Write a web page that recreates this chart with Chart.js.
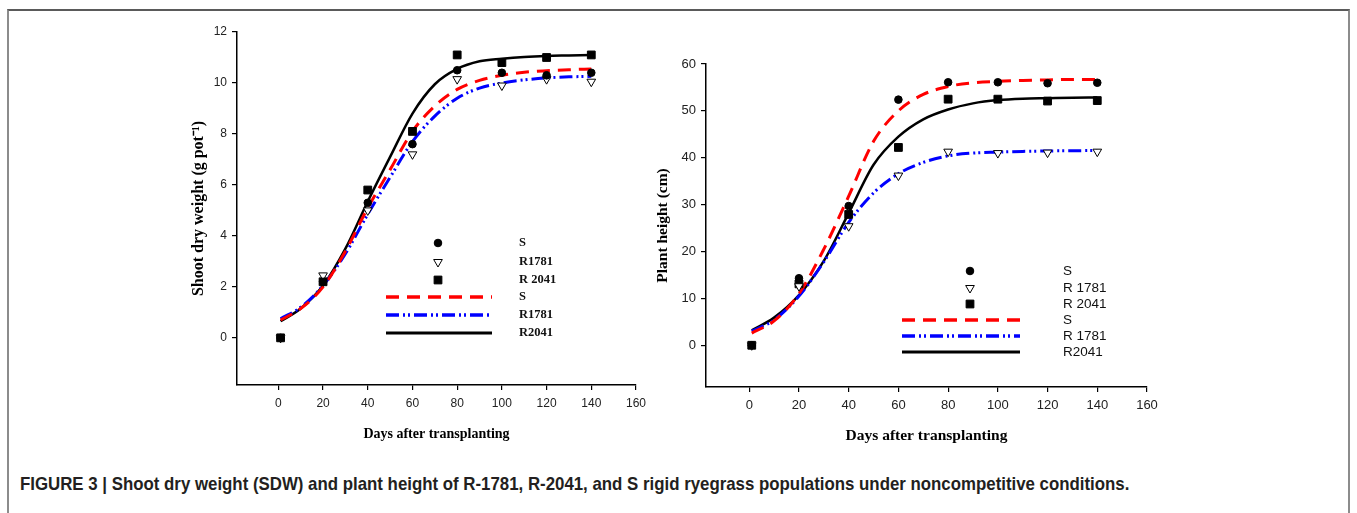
<!DOCTYPE html>
<html>
<head>
<meta charset="utf-8">
<script src="https://cdn.jsdelivr.net/npm/chart.js@4.4.1/dist/chart.umd.min.js"></script>
<style>
  body { margin: 0; background: #fff; width: 1357px; height: 513px; overflow: hidden; position: relative; }
  #frame { position: absolute; left: 7px; top: 9px; width: 1339px; height: 600px;
           border: 2px solid #8c8c8c; border-top-color: #5a5a5a; }
  .box { position: absolute; top: 0; height: 460px; }
  #left { left: 185px; width: 480px; }
  #right { left: 650px; width: 520px; }
  #caption { position: absolute; left: 20px; top: 474px; white-space: nowrap;
             font: bold 18.5px "Liberation Sans Narrow", "Arial Narrow", "Liberation Sans", sans-serif;
             color: #231f20; line-height: 20px; transform: scaleX(0.91); transform-origin: left center; }
</style>
</head>
<body>
<div id="frame"></div>
<div class="box" id="left"><canvas id="sdwChart"></canvas></div>
<div class="box" id="right"><canvas id="heightChart"></canvas></div>
<div id="caption">FIGURE 3 | Shoot dry weight (SDW) and plant height of R-1781, R-2041, and S rigid ryegrass populations under noncompetitive conditions.</div>

<script>
// sampling days
const days = [1, 20, 40, 60, 80, 100, 120, 140];
const curveDays = [1, 10, 20, 30, 40, 50, 60, 70, 80, 90, 100, 110, 120, 130, 140];
const xTicks = [0, 20, 40, 60, 80, 100, 120, 140, 160];

// shoot dry weight (g pot-1)
const sdwTicks = [0, 2, 4, 6, 8, 10, 12];
const sdwS = [0, 2.2, 5.3, 7.6, 10.5, 10.4, 10.3, 10.4];
const sdwR1781 = [0, 2.45, 5.0, 7.2, 10.15, 9.9, 10.15, 10.05];
const sdwR2041 = [0, 2.2, 5.8, 8.1, 11.1, 10.8, 11.0, 11.1];
const sdwFitS = [0.7, 1.15, 2.0, 3.4, 5.1, 6.6, 8.1, 9.1, 9.75, 10.1, 10.3, 10.42, 10.48, 10.52, 10.55];
const sdwFitR1781 = [0.75, 1.2, 2.05, 3.3, 4.85, 6.3, 7.7, 8.7, 9.4, 9.8, 10.0, 10.12, 10.2, 10.24, 10.26];
const sdwFitR2041 = [0.65, 1.15, 2.05, 3.5, 5.35, 7.1, 8.8, 9.95, 10.55, 10.85, 10.95, 11.02, 11.06, 11.08, 11.1];
const sdwLabels = ['S', 'R1781', 'R 2041', 'S', 'R1781', 'R2041'];

// plant height (cm)
const heightTicks = [0, 10, 20, 30, 40, 50, 60];
const htS = [0, 14.3, 29.7, 52.4, 56.1, 56.1, 55.9, 56.0];
const htR1781 = [0, 12.6, 25.4, 36.2, 41.3, 41.0, 41.1, 41.3];
const htR2041 = [0, 13.1, 27.9, 42.2, 52.5, 52.5, 52.1, 52.2];
const htFitS = [2.6, 5.2, 11.0, 20.5, 31.8, 43.5, 50.0, 53.5, 55.2, 56.0, 56.3, 56.5, 56.6, 56.7, 56.7];
const htFitR1781 = [3.0, 5.4, 10.5, 17.8, 26.2, 32.5, 36.6, 39.0, 40.4, 41.0, 41.2, 41.35, 41.45, 41.5, 41.55];
const htFitR2041 = [3.2, 5.9, 10.7, 18.0, 28.2, 38.5, 44.5, 48.2, 50.3, 51.6, 52.3, 52.6, 52.7, 52.8, 52.85];
const heightLabels = ['S', 'R 1781', 'R 2041', 'S', 'R 1781', 'R2041'];

const pts = (xs, ys) => xs.map((x, i) => ({ x: x, y: ys[i] }));

// draws the legend inside the plot area
const inlineLegend = {
  id: 'inlineLegend',
  afterDraw(chart, args, opts) {
    const ctx = chart.ctx;
    ctx.save();
    opts.items.forEach(it => {
      const ds = chart.data.datasets[it.dataset];
      if (ds.showLine === false) {
        ctx.fillStyle = ds.pointBackgroundColor;
        ctx.strokeStyle = ds.pointBorderColor;
        ctx.lineWidth = 1;
        Chart.helpers.drawPoint(ctx, { pointStyle: ds.pointStyle, radius: ds.pointRadius,
          rotation: ds.pointRotation || 0, borderWidth: 1 }, opts.markerX, it.y);
      } else {
        ctx.strokeStyle = ds.borderColor;
        ctx.lineWidth = ds.borderWidth + 0.5;
        ctx.setLineDash(ds.borderDash || []);
        ctx.beginPath();
        ctx.moveTo(opts.lineX1, it.y);
        ctx.lineTo(opts.lineX2, it.y);
        ctx.stroke();
        ctx.setLineDash([]);
      }
      ctx.fillStyle = '#111';
      ctx.font = opts.font;
      ctx.textBaseline = 'middle';
      ctx.textAlign = 'left';
      ctx.fillText(ds.label, opts.textX, it.y);
    });
    ctx.restore();
  }
};

function makeDatasets(s, r1, r2, fs, fr1, fr2, labels) {
  const marker = (label, data, style, fill, rot, r) => ({
    type: 'scatter', label: label, data: pts(days, data), showLine: false,
    pointStyle: style, pointRadius: r, pointRotation: rot,
    pointBackgroundColor: fill, pointBorderColor: '#000', pointBorderWidth: 1, order: 0
  });
  const curve = (label, data, color, width, dash) => ({
    type: 'line', label: label, data: pts(curveDays, data), borderColor: color,
    borderWidth: width, borderDash: dash, pointRadius: 0, cubicInterpolationMode: 'monotone',
    fill: false, order: 1
  });
  return [
    marker(labels[0], s, 'circle', '#000', 0, 3.8),
    marker(labels[1], r1, 'triangle', '#fff', 180, 5),
    marker(labels[2], r2, 'rect', '#000', 0, 5.5),
    curve(labels[3], fs, '#ff0000', 3, [13, 8]),
    curve(labels[4], fr1, '#0000ff', 3, [13, 4, 2, 3, 2, 4]),
    curve(labels[5], fr2, '#000000', 2.5, [])
  ];
}

function makeChart(id, datasets, cfg) {
  const ctx = document.getElementById(id).getContext('2d');
  return new Chart(ctx, {
    data: { datasets: datasets },
    plugins: [inlineLegend],
    options: {
      responsive: true,
      maintainAspectRatio: false,
      animation: false,
      layout: { padding: { top: cfg.padTop, right: cfg.padRight, bottom: cfg.padBottom, left: 0 } },
      plugins: {
        legend: { display: false },
        tooltip: { enabled: false },
        inlineLegend: cfg.legend
      },
      scales: {
        x: {
          type: 'linear', min: cfg.xMin, max: 160,
          afterBuildTicks: sc => { sc.ticks = xTicks.map(v => ({ value: v })); },
          afterFit: sc => { sc.height = 62; },
          grid: { display: true, drawOnChartArea: false, drawTicks: true, tickLength: 5, color: '#000', lineWidth: 1.2 },
          border: { display: true, color: '#000', width: 1.5 },
          ticks: { color: '#222', padding: 6, font: { family: 'Liberation Sans', size: cfg.tickSize }, maxRotation: 0 },
          title: { display: true, text: 'Days after transplanting', color: '#000',
                   font: { family: 'Liberation Serif', weight: 'bold', size: cfg.xTitleSize }, padding: { top: 4, bottom: 4 } }
        },
        y: {
          type: 'linear', min: cfg.yMin, max: cfg.yMax,
          afterBuildTicks: sc => { sc.ticks = cfg.yTicks.map(v => ({ value: v })); },
          afterFit: sc => { sc.width = cfg.yWidth; },
          grid: { display: true, drawOnChartArea: false, drawTicks: true, tickLength: 5, color: '#000', lineWidth: 1.2 },
          border: { display: true, color: '#000', width: 1.5 },
          ticks: { color: '#222', padding: 5, font: { family: 'Liberation Sans', size: cfg.tickSize } },
          title: { display: true, text: cfg.yTitle, color: '#000',
                   font: { family: 'Liberation Serif', weight: 'bold', size: cfg.yTitleSize }, padding: { top: 4, bottom: 4 } }
        }
      }
    }
  });
}

makeChart('sdwChart',
  makeDatasets(sdwS, sdwR1781, sdwR2041, sdwFitS, sdwFitR1781, sdwFitR2041, sdwLabels), {
  xMin: -18.5, yMin: -1.85, yMax: 12, yTicks: sdwTicks, yWidth: 52,
  padTop: 32, padRight: 29, padBottom: 13, tickSize: 12, xTitleSize: 14, yTitleSize: 16,
  yTitle: 'Shoot dry weight (g pot\u207B\u00B9)',
  legend: {
    markerX: 253, lineX1: 201, lineX2: 307, textX: 334,
    font: 'bold 12.5px "Liberation Serif", serif',
    items: [{ dataset: 0, y: 243 }, { dataset: 1, y: 262 }, { dataset: 2, y: 280 },
            { dataset: 3, y: 297 }, { dataset: 4, y: 315 }, { dataset: 5, y: 333 }]
  }
});

makeChart('heightChart',
  makeDatasets(htS, htR1781, htR2041, htFitS, htFitR1781, htFitR2041, heightLabels), {
  xMin: -17.4, yMin: -8.9, yMax: 60, yTicks: heightTicks, yWidth: 56,
  padTop: 64, padRight: 23, padBottom: 11, tickSize: 13, xTitleSize: 15.5, yTitleSize: 15.5,
  yTitle: 'Plant height (cm)',
  legend: {
    markerX: 320, lineX1: 252, lineX2: 370, textX: 413,
    font: '13.5px "Liberation Sans", sans-serif',
    items: [{ dataset: 0, y: 271 }, { dataset: 1, y: 288 }, { dataset: 2, y: 304 },
            { dataset: 3, y: 320 }, { dataset: 4, y: 336 }, { dataset: 5, y: 352 }]
  }
});
</script>
</body>
</html>
